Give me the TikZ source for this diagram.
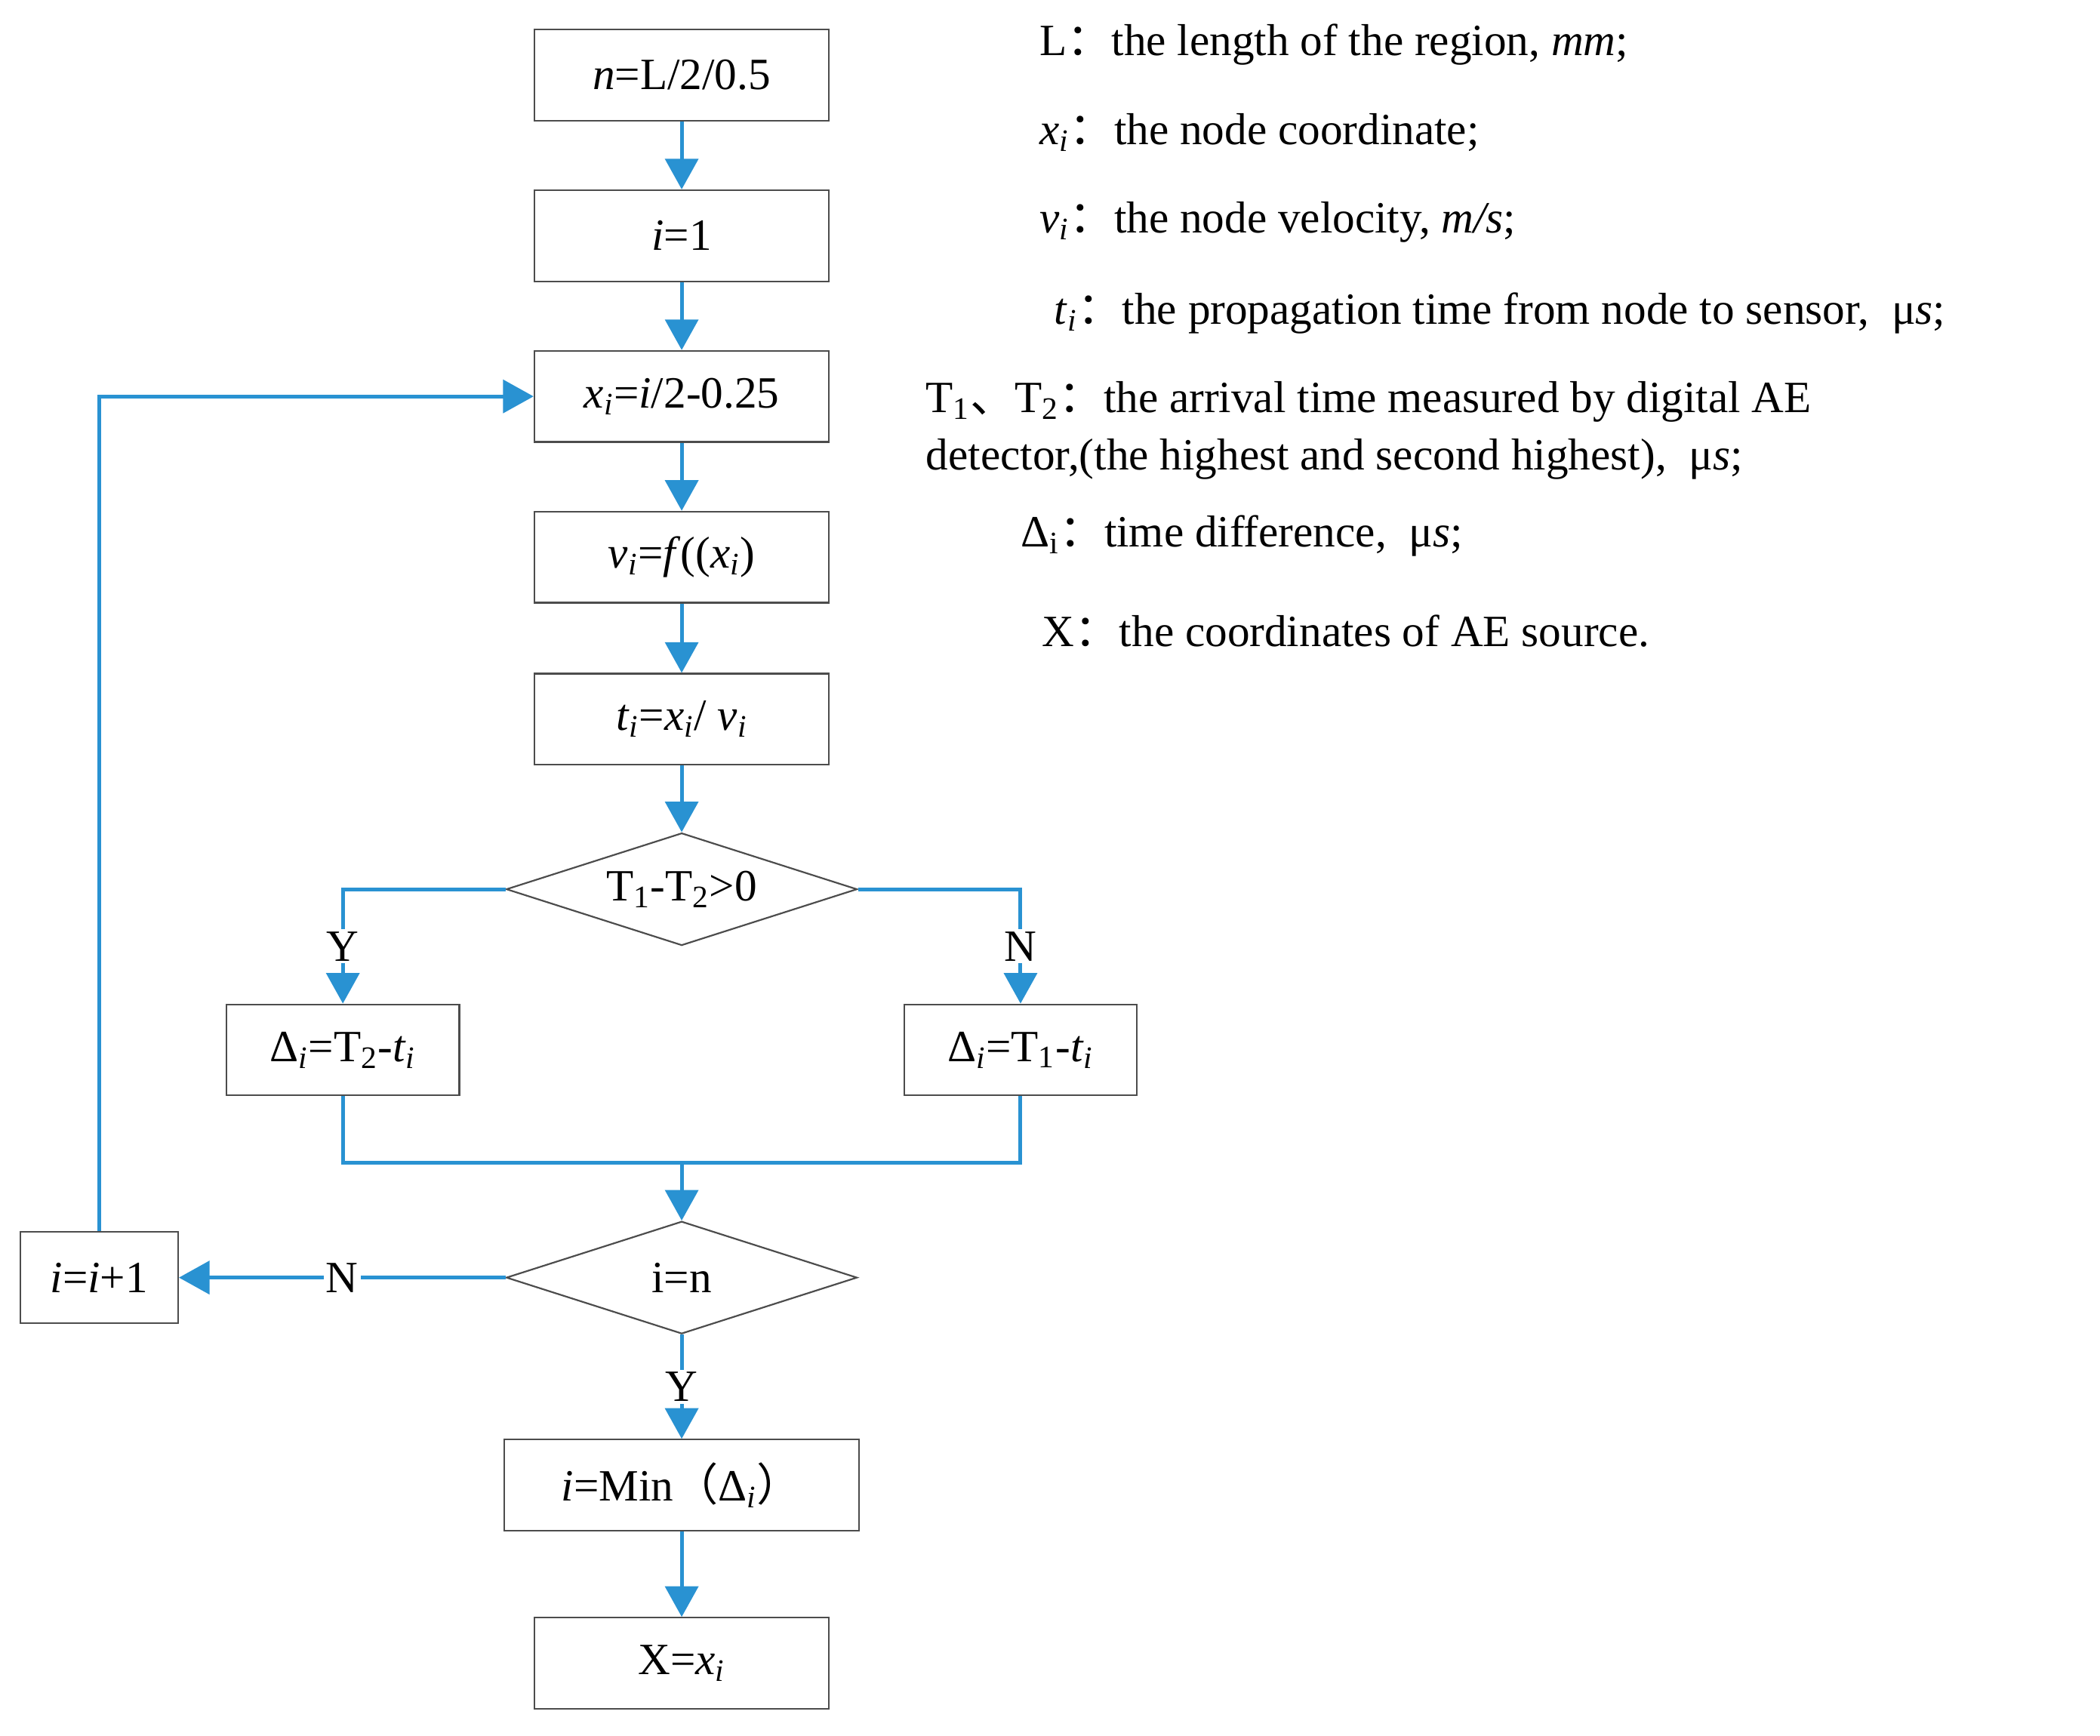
\documentclass[tikz,border=0pt]{standalone}
\usepackage{fontspec}
\setmainfont{Liberation Serif}
\newfontfamily\cjk{Noto Sans CJK SC}
\usetikzlibrary{shapes.geometric,arrows.meta}
\definecolor{fb}{RGB}{41,146,210}
\newcommand{\myi}[1]{\textsubscript{\textit{#1}}}
\newcommand{\cc}{{\cjk ：}}
\begin{document}
\begin{tikzpicture}[x=0.02cm,y=-0.02cm,
  font=\fontsize{19}{23}\selectfont,
  box/.style={draw=black!70,line width=0.7pt,minimum height=1.36cm,inner sep=0pt},
  dia/.style={diamond,aspect=3.1,draw=black!70,line width=0.7pt,minimum width=5.24cm,minimum height=1.68cm,inner sep=0pt},
  ar/.style={draw=fb,line width=1.6pt,-{Triangle[width=14pt,length=13pt]}},
  ln/.style={draw=fb,line width=1.6pt},
  lab/.style={fill=white,inner sep=1pt},
  leg/.style={anchor=west,inner sep=0pt}]
\useasboundingbox (0,0) rectangle (1568,1296);
\node[box,minimum width=4.4cm] (n) at (509,56) {\textit{n}=L/2/0.5};
\node[box,minimum width=4.4cm] (i1) at (509,176) {\textit{i}=1};
\node[box,minimum width=4.4cm] (x) at (509,296) {\textit{x\myi{i}}=\textit{i}/2-0.25};
\node[box,minimum width=4.4cm] (v) at (509,416) {\textit{v}\myi{i}=\textit{f}((\textit{x}\myi{i})};
\node[box,minimum width=4.4cm] (t) at (509,537) {\textit{t}\myi{i}=\textit{x}\myi{i}/ \textit{v}\myi{i}};
\node[dia] (d1) at (509,664) {T\textsubscript{1}-T\textsubscript{2}>0};
\node[box,minimum width=3.48cm] (dl) at (256,784) {Δ\myi{i}=T\textsubscript{2}-\textit{t}\myi{i}};
\node[box,minimum width=3.48cm] (dr) at (762,784) {Δ\myi{i}=T\textsubscript{1}-\textit{t}\myi{i}};
\coordinate (m) at (509,868);
\node[dia] (d2) at (509,954) {i=n};
\node[box,minimum width=2.36cm] (inc) at (74,954) {\textit{i}=\textit{i}+1};
\node[box,minimum width=5.3cm] (mn) at (509,1109) {\textit{i}=Min{\cjk （}Δ\myi{i}{\cjk ）}};
\node[box,minimum width=4.4cm] (X) at (509,1242) {X=\textit{x}\myi{i}};
\draw[ar] (n) -- (i1);
\draw[ar] (i1) -- (x);
\draw[ar] (x) -- (v);
\draw[ar] (v) -- (t);
\draw[ar] (t) -- (d1);
\draw[ar] (d1.west) -| node[lab,pos=0.75]{Y} (dl.north);
\draw[ar] (d1.east) -| node[lab,pos=0.75]{N} (dr.north);
\draw[ln] (dl.south) |- (m) -| (dr.south);
\draw[ar] (m) -- (d2.north);
\draw[ar] (d2.west) -- node[lab,pos=0.5]{N} (inc.east);
\draw[ar] (inc.north) |- (x.west);
\draw[ar] (d2.south) -- node[lab,pos=0.5]{Y} (mn.north);
\draw[ar] (mn) -- (X);
\node[leg] at (776,33) {L\cc the length of the region, \textit{mm};};
\node[leg] at (776,99) {\textit{x}\myi{i}\cc the node coordinate;};
\node[leg] at (776,166) {\textit{v}\myi{i}\cc the node velocity, \textit{m/s};};
\node[leg] at (787,234) {\textit{t}\myi{i}\cc the propagation time from node to sensor,\ \ μ\textit{s};};
\node[leg] at (691,300) {T\textsubscript{1}{\cjk 、}T\textsubscript{2}\cc the arrival time measured by digital AE};
\node[leg] at (691,343) {detector,(the highest and second highest),\ \ μ\textit{s};};
\node[leg] at (762,400) {Δ\textsubscript{i}\cc time difference,\ \ μ\textit{s};};
\node[leg] at (778,471) {X\cc the coordinates of AE source.};
\end{tikzpicture}
\end{document}
